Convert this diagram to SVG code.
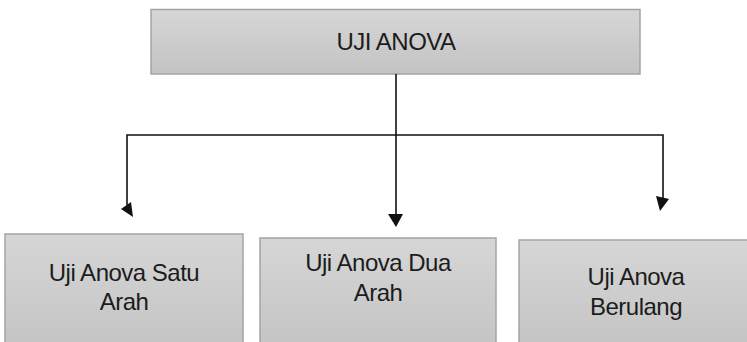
<svg xmlns="http://www.w3.org/2000/svg" width="747" height="342" viewBox="0 0 747 342">
<defs>
<linearGradient id="g" x1="0" y1="0" x2="0" y2="1">
<stop offset="0" stop-color="#d6d6d6"/>
<stop offset="1" stop-color="#c3c3c3"/>
</linearGradient>
</defs>
<style>
.box{fill:url(#g);stroke:#a4a4a4;stroke-width:1.5}
.t{font-family:"Liberation Sans",Arial,sans-serif;font-size:24px;fill:#1c1c1c;text-anchor:middle;letter-spacing:-0.5px}
.ln{fill:none;stroke:#111;stroke-width:1.6}
.ah{fill:#111;stroke:none}
</style>
<rect width="747" height="342" fill="#fff"/>
<g id="node-root">
<rect class="box" x="151" y="9.5" width="489" height="64.5"/>
<text class="t" x="396" y="50">UJI ANOVA</text>
</g>
<g id="node-satu">
<rect class="box" x="5" y="234" width="238" height="120"/>
<text class="t" x="124" y="281">Uji Anova Satu</text>
<text class="t" x="124" y="310">Arah</text>
</g>
<g id="node-dua">
<rect class="box" x="260" y="238" width="236" height="116"/>
<text class="t" x="378" y="271">Uji Anova Dua</text>
<text class="t" x="378" y="301">Arah</text>
</g>
<g id="node-berulang">
<rect class="box" x="519" y="240" width="240" height="114"/>
<text class="t" x="636" y="285">Uji Anova</text>
<text class="t" x="636" y="315">Berulang</text>
</g>
<g id="connectors">
<path class="ln" d="M396 74 V215"/>
<path class="ln" d="M127 205 V135 H663 V198"/>
<polygon class="ah" points="121,209 131,202 133,217"/>
<polygon class="ah" points="388,214 403,214 396,227"/>
<polygon class="ah" points="656,196 669,199 660,211"/>
</g>
</svg>
